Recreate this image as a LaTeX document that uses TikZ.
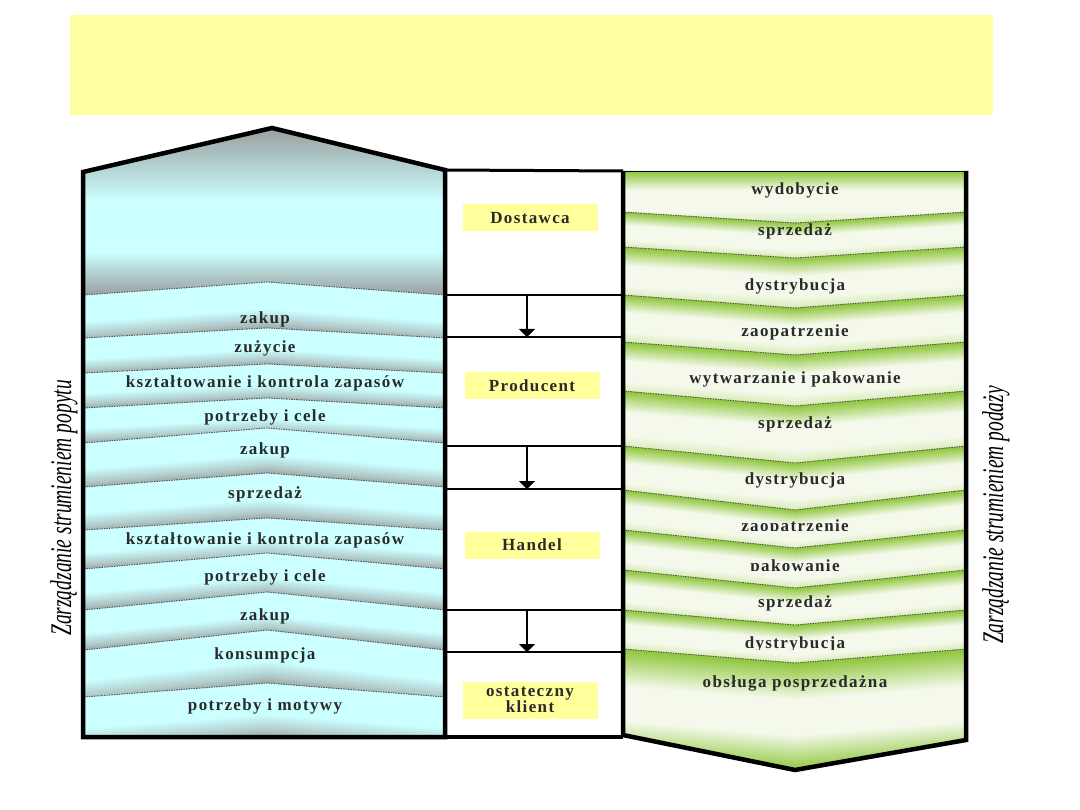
\documentclass[tikz,border=0pt]{standalone}
\usepackage{graphicx}
\usepackage{fontspec}
\setmainfont{Liberation Serif}
\newfontfamily\bandfont[LetterSpace=8]{Liberation Serif}
\newfontfamily\sidefont{Liberation Serif}
\usetikzlibrary{arrows.meta}
\definecolor{bannery}{HTML}{FFFFA0}
\definecolor{stagey}{HTML}{FFFF9C}
\definecolor{lcyan}{HTML}{CCFFFF}
\definecolor{lgray}{HTML}{9A9F9F}
\definecolor{gstrong}{HTML}{8EC63A}
\definecolor{gpale}{HTML}{F4F9EC}
\definecolor{glight}{HTML}{D4E9B0}
\definecolor{txtc}{HTML}{2A2A2A}
\definecolor{divc}{HTML}{505050}
% TikZ maps the path's extent onto 25bp..75bp of a shading
\pgfdeclareverticalshading{lband}{100bp}{color(0bp)=(lgray); color(25bp)=(lgray); color(33bp)=(lgray!55!lcyan); color(47bp)=(lcyan); color(100bp)=(lcyan)}
\pgfdeclareverticalshading{lroof}{100bp}{color(0bp)=(lgray); color(25bp)=(lgray); color(38bp)=(lcyan); color(53bp)=(lcyan); color(75bp)=(lgray); color(100bp)=(lgray)}
\pgfdeclareverticalshading{rband}{100bp}{color(0bp)=(glight); color(25bp)=(glight); color(37bp)=(gpale); color(57bp)=(gpale); color(75bp)=(gstrong); color(100bp)=(gstrong)}
\pgfdeclareverticalshading{rlast}{100bp}{color(0bp)=(gstrong); color(25bp)=(gstrong); color(42bp)=(gpale); color(58bp)=(gpale); color(75bp)=(gstrong); color(100bp)=(gstrong)}
\newcommand\halfshade[6]{%
  \pgfmathsetmacro\hslopeval{(#5)/((#2)-(#1))}%
  \pgfmathsetmacro\hshiftval{\hslopeval*(#1)}%
  \begin{scope}[transform canvas={yshift=\hshiftval pt, yslant=-\hslopeval}]%
    \shade[shading=#6] (#1,#3) rectangle (#2,#4);%
  \end{scope}}
\begin{document}
\begin{tikzpicture}[x=1pt,y=-1pt,
  bandtext/.style={font=\bandfont\bfseries\fontsize{17}{19}\selectfont, text=txtc, inner sep=0pt, text height=11pt, text depth=3pt},
  stage/.style={fill=stagey, minimum width=135pt, minimum height=27pt, inner sep=0pt, font=\bandfont\bfseries\fontsize{17}{14}\selectfont, text=txtc},
  divider/.style={draw=divc, line width=0.9pt, dash pattern=on 1.5pt off 1pt},
  frame/.style={draw=black, line width=4.5pt, line join=miter},
  cellline/.style={draw=black, line width=2pt},
  flow/.style={draw=black, line width=1.5pt, -{Triangle[length=8pt,width=16pt]}},
  sidelabel/.style={rotate=90, inner sep=0pt, text=black}]
\useasboundingbox[fill=white] (0,0) rectangle (1080,810);

% banner
\node[fill=bannery, minimum width=923pt, minimum height=100pt, inner sep=0pt] (banner) at (531.5,65) {};

% left roof section
\shade[shading=lroof] (84,172) -- (272,128) -- (445,170) -- (445,295) -- (267,282) -- (84,295) -- cycle;

% left bands
\foreach \et/\at/\eb/\ab/\ty/\txt [count=\i] in {
 295/282/338/328/320/zakup,
 338/328/373/364/349/zużycie,
 373/364/408/398/384/kształtowanie i kontrola zapasów,
 408/398/443/428/418/potrzeby i cele,
 443/428/487/473/451/zakup,
 487/473/530/518/494/sprzedaż,
 530/518/569/553/540/kształtowanie i kontrola zapasów,
 569/553/610/592/577/potrzeby i cele,
 610/592/650/630/616/zakup,
 650/630/697/683/655/konsumpcja,
 697/683/737/737/706/potrzeby i motywy}
{
 \pgfmathsetmacro\dtop{\at-\et}
 \pgfmathsetmacro\dbot{\ab-\eb}
 \pgfmathsetmacro\ybx{\eb+max(0,\dbot-\dtop)+1}
 \begin{scope}
  \clip (84,\et) -- (267,\at) -- (445,\et) -- (445,\eb) -- (267,\ab) -- (84,\eb) -- cycle;
  \halfshade{84}{268}{\et}{\ybx}{\dtop}{lband}
  \halfshade{445}{266}{\et}{\ybx}{\dtop}{lband}
 \end{scope}
 \node[bandtext] (L\i) at (265,\ty) {\txt};
}
\foreach \e/\a in {295/282,338/328,373/364,408/398,443/428,487/473,530/518,569/553,610/592,650/630,697/683}
 \draw[divider] (84,\e) -- (267,\a) -- (445,\e);

% right bands
\foreach \et/\at/\eb/\ab/\ty/\cy/\txt [count=\i] in {
 171/171/212/223/191/900/wydobycie,
 212/223/247/258/232/900/sprzedaż,
 247/258/295/308/287/900/dystrybucja,
 295/308/342/355/333/900/zaopatrzenie,
 342/355/391/406/380/900/wytwarzanie i pakowanie,
 391/406/446/463/425/900/sprzedaż,
 446/463/490/510/480/900/dystrybucja,
 490/510/530/548/527/530/zaopatrzenie,
 530/548/570/588/567/570/pakowanie,
 570/588/610/625/603/900/sprzedaż,
 610/625/649/663/644/649/dystrybucja}
{
 \pgfmathsetmacro\dtop{\at-\et}
 \pgfmathsetmacro\dbot{\ab-\eb}
 \pgfmathsetmacro\ybx{\eb+max(0,\dbot-\dtop)+1}
 \begin{scope}
  \clip (623,\et) -- (795,\at) -- (966,\et) -- (966,\eb) -- (795,\ab) -- (623,\eb) -- cycle;
  \halfshade{623}{796}{\et}{\ybx}{\dtop}{rband}
  \halfshade{966}{794}{\et}{\ybx}{\dtop}{rband}
 \end{scope}
 \begin{scope}
  \clip (600,0) rectangle (990,\cy);
  \node[bandtext] (R\i) at (795,\ty) {\txt};
 \end{scope}
}
\begin{scope}
 \clip (623,649) -- (795,663) -- (966,649) -- (966,740) -- (795,770) -- (623,735) -- cycle;
 \halfshade{623}{796}{649}{758}{14}{rlast}
 \halfshade{966}{794}{649}{758}{14}{rlast}
\end{scope}
\node[bandtext] (R12) at (795,683) {obsługa posprzedażna};
\foreach \e/\a in {212/223,247/258,295/308,342/355,391/406,446/463,490/510,530/548,570/588,610/625,649/663}
 \draw[divider] (623,\e) -- (795,\a) -- (966,\e);

% centre column
\node[stage] (dost) at (530,218) {Dostawca};
\node[stage] (prod) at (532,386) {Producent};
\node[stage] (hand) at (532,545) {Handel};
\node[stage, minimum height=37pt, align=center] (klient) at (530,700) {ostateczny\\klient};
\foreach \y in {295,337,446,489,610,652}
 \draw[cellline] (445,\y) -- (623,\y);
\coordinate (s1) at (527,295); \coordinate (e1) at (527,337);
\coordinate (s2) at (527,446); \coordinate (e2) at (527,489);
\coordinate (s3) at (527,610); \coordinate (e3) at (527,652);
\draw[flow] (s1) -- (e1);
\draw[flow] (s2) -- (e2);
\draw[flow] (s3) -- (e3);

% frames
\draw[frame] (83,737) -- (83,172) -- (272,128) -- (445,170) -- (445,737) -- cycle;
\draw[frame] (445,737) -- (623,737);
\draw[draw=black, line width=3pt] (445,170) -- (623,171);
\draw[draw=black, line width=0.8pt] (623,171) -- (966,171);
\draw[frame] (966,171) -- (966,740) -- (795,770) -- (623,735) -- (623,171);

% side labels
\node[sidelabel] (sideL) at (64,508) {\scalebox{0.65}[1]{\sidefont\itshape\fontsize{30}{32}\selectfont Zarządzanie strumieniem popytu}};
\node[sidelabel] (sideR) at (996,515) {\scalebox{0.65}[1]{\sidefont\itshape\fontsize{30}{32}\selectfont Zarządzanie strumieniem podaży}};
\end{tikzpicture}
\end{document}
